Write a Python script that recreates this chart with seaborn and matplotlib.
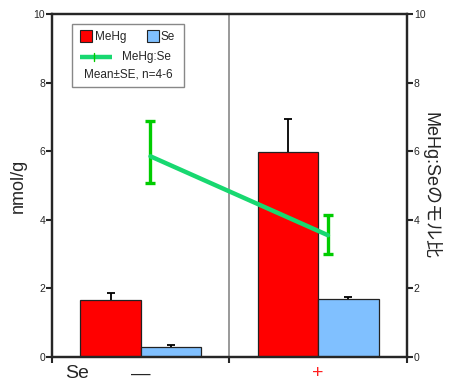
import matplotlib
matplotlib.use("Agg")
import matplotlib.pyplot as plt
from matplotlib.patches import Rectangle
import seaborn as sns
import pandas as pd

# data
groups = ["−", "+"]
mehg = [1.66, 5.99]
mehg_se = [0.21, 0.95]
se = [0.28, 1.69]
se_se = [0.06, 0.05]
ratio = [5.85, 3.55]
ratio_lo = [0.77, 0.56]
ratio_hi = [1.04, 0.58]

RED = "#ff0000"
BLUE = "#80c0ff"
GREEN = "#18d870"
GREEN_ERR = "#00cc00"

sns.set_style("ticks")
plt.rcParams["font.family"] = ["Liberation Sans", "Noto Sans CJK JP", "DejaVu Sans"]

df = pd.DataFrame({
    "group": groups * 2,
    "kind": ["MeHg"] * 2 + ["Se"] * 2,
    "value": mehg + se,
})

fig = plt.figure(figsize=(4.55, 3.85), dpi=100)
ax = fig.add_axes([0.1143, 0.0727, 0.780, 0.891])

sns.barplot(data=df, x="group", y="value", hue="kind", order=groups,
            hue_order=["MeHg", "Se"], palette=[RED, BLUE],
            width=0.68, gap=0, errorbar=None, legend=False,
            edgecolor="#222222", linewidth=0.9, saturation=1, ax=ax)

# upward-only SE bars (cap on top only)
for cont, err in zip(ax.containers, [mehg_se, se_se]):
    xs = [b.get_x() + b.get_width() / 2 for b in cont]
    ys = [b.get_height() for b in cont]
    eb = ax.errorbar(xs, ys, yerr=[[0, 0], err], fmt="none", ecolor="black",
                     elinewidth=1.3, capsize=3, capthick=1.3, zorder=1)
    eb[1][0].set_visible(False)

ax.set_xlim(-0.5, 1.5)
ax.set_ylim(0, 10)
ax.axvline(0.5, color="#888888", lw=1.2, zorder=0)
ax.set_xticks([-0.5, 0.5, 1.5])
ax.set_xticklabels([])
ax.set_xticks([0, 1], minor=True)
ax.set_xticklabels(["—", "+"], minor=True, fontsize=14)
ax.get_xticklabels(minor=True)[1].set_color("#ff2020")
ax.tick_params(axis="x", which="minor", length=0, pad=6)
ax.tick_params(axis="x", which="major", length=4, width=1.5, direction="out")
ax.set_yticks(range(0, 11, 2))
ax.tick_params(axis="y", labelsize=7.5, length=4, width=1.5, pad=1)
ax.set_xlabel("")
ax.set_ylabel("nmol/g", fontsize=13, labelpad=5)
ax.text(0.037, -0.024, "Se", transform=ax.transAxes, fontsize=14,
        ha="left", va="top")
for s in ax.spines.values():
    s.set_linewidth(1.6)

ax2 = ax.twinx()
ax2.errorbar([0.055, 1.055], ratio, yerr=[ratio_lo, ratio_hi],
             color=GREEN, lw=3.2, ecolor=GREEN_ERR, elinewidth=2.4,
             capsize=3.5, capthick=2.4)
ax2.set_ylim(0, 10)
ax2.set_yticks(range(0, 11, 2))
ax2.tick_params(axis="y", labelsize=7.5, length=4, width=1.5, pad=1)
ax2.set_ylabel("MeHg:Seのモル比", fontsize=13, rotation=270, labelpad=11)
for s in ax2.spines.values():
    s.set_linewidth(1.6)

# legend box, laid out like the original
tr = ax2.transAxes
ax2.add_patch(Rectangle((0.056, 0.787), 0.316, 0.184, transform=tr,
                        fc="white", ec="#888888", lw=1.0, zorder=5))
ax2.add_patch(Rectangle((0.079, 0.917), 0.034, 0.035, transform=tr,
                        fc=RED, ec="#222222", lw=0.8, zorder=6))
ax2.text(0.121, 0.934, "MeHg", transform=tr, fontsize=8.5, va="center", zorder=6)
ax2.add_patch(Rectangle((0.268, 0.917), 0.034, 0.035, transform=tr,
                        fc=BLUE, ec="#222222", lw=0.8, zorder=6))
ax2.text(0.307, 0.934, "Se", transform=tr, fontsize=8.5, va="center", zorder=6)
ax2.plot([0.079, 0.169], [0.875, 0.875], transform=tr, color=GREEN, lw=3.2,
         solid_capstyle="butt", zorder=6)
ax2.plot([0.118, 0.118], [0.864, 0.886], transform=tr, color=GREEN_ERR, lw=1.0,
         zorder=7)
ax2.text(0.197, 0.875, "MeHg:Se", transform=tr, fontsize=8.5, va="center", zorder=6)
ax2.text(0.214, 0.824, "Mean±SE, n=4-6", transform=tr, fontsize=8.5,
         ha="center", va="center", zorder=6)

fig.savefig("out.png", dpi=100)
